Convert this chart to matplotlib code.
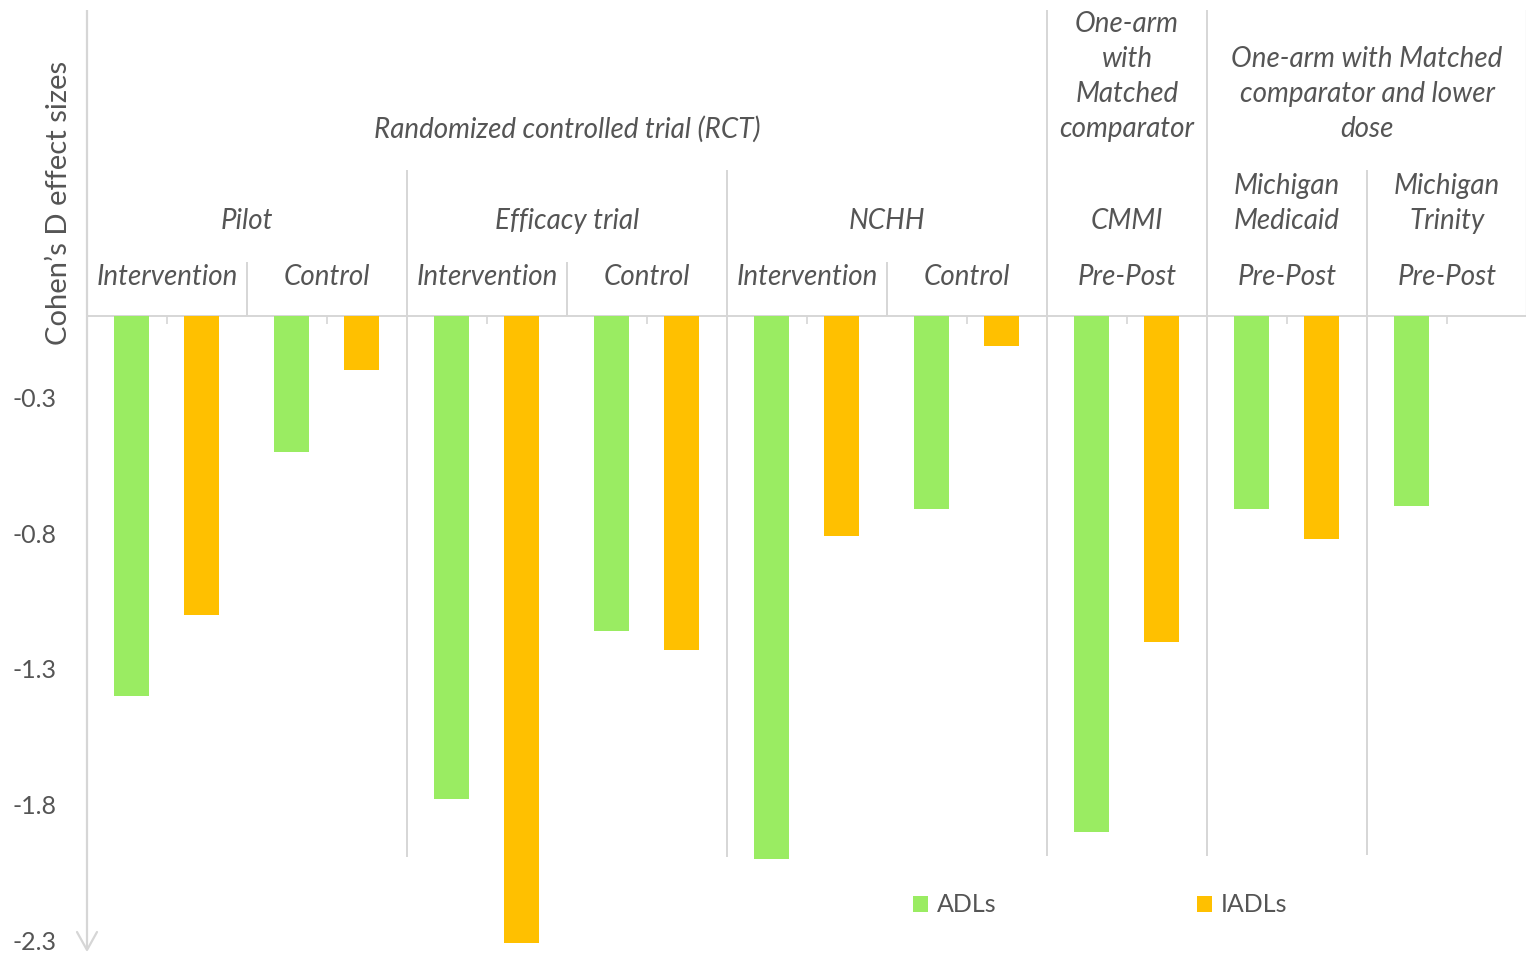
import numpy as np
import matplotlib.pyplot as plt

# Effect sizes (Cohen's d) per study arm
arms = ["Intervention", "Control", "Intervention", "Control", "Intervention",
        "Control", "Pre-Post", "Pre-Post", "Pre-Post"]
adl = [-1.40, -0.50, -1.78, -1.16, -2.00, -0.71, -1.90, -0.71, -0.70]
iadl = [-1.10, -0.20, -2.31, -1.23, -0.81, -0.11, -1.20, -0.82, np.nan]

# Study labels: (label, first arm, last arm + 1)
studies = [("Pilot", 0, 2), ("Efficacy trial", 2, 4), ("NCHH", 4, 6),
           ("CMMI", 6, 7), ("Michigan\nMedicaid", 7, 8), ("Michigan\nTrinity", 8, 9)]
# Design labels
designs = [("Randomized controlled trial (RCT)", 0, 6),
           ("One-arm\nwith\nMatched\ncomparator", 6, 7),
           ("One-arm with Matched\ncomparator and lower\ndose", 7, 9)]
yticks = [-0.3, -0.8, -1.3, -1.8, -2.3]
series_names = ["ADLs", "IADLs"]

GREEN = "#9AEC62"
GOLD = "#FFC000"
TXT = "#555555"
GRID = "#D6D6D6"
FONT = "Lato"

W, H = 1526, 956
fig = plt.figure(figsize=(W / 100, H / 100), dpi=100)
top_px, bot_px, left_px = 10, 948, 87
ax = fig.add_axes([left_px / W, (H - bot_px) / H, 1440 / W, (bot_px - top_px) / H])

zero_px, px_per_unit = 316, 271.5


def Y(py):
    """Convert a pixel row of the plot area into a value on the effect-size scale."""
    return (zero_px - py) / px_per_unit


ax.set_xlim(0, 18)
ax.set_ylim(Y(bot_px), Y(top_px))
for s in ax.spines.values():
    s.set_visible(False)
ax.set_xticks([])

# bars: each arm occupies two unit slots
idx = np.arange(len(arms))
bw = 0.434
b1 = ax.bar(2 * idx + 0.56, adl, width=bw, color=GREEN, label=series_names[0], zorder=3)
b2 = ax.bar(2 * idx + 1.43, iadl, width=bw, color=GOLD, label=series_names[1], zorder=3)

# category axis line and small ticks between the two slots of an arm
ax.axhline(0, color=GRID, lw=1.4, zorder=2)
ax.vlines(2 * idx + 1, Y(316), Y(324), color=GRID, lw=1.2, clip_on=False)

# separators of the hierarchical category labels
ax.vlines([2, 6, 10], Y(262), Y(316), color=GRID, lw=1.4)
ax.vlines([4, 8], Y(170), Y(857), color=GRID, lw=1.4)
ax.vlines([16], Y(170), Y(855), color=GRID, lw=1.4)
ax.vlines([12, 14], Y(10), Y(856), color=GRID, lw=1.4)
ax.vlines([18], Y(10), Y(316), color=GRID, lw=1.6, clip_on=False)

# value axis with arrow head
ax.vlines([0], Y(949), Y(10), color=GRID, lw=1.6, clip_on=False)
ax.plot([-0.125, 0, 0.125], [Y(932), Y(950), Y(932)], color=GRID, lw=1.6,
        clip_on=False, solid_capstyle="round")

ax.set_yticks(yticks)
ax.set_yticklabels([f"{t:.1f}" for t in yticks], fontfamily=FONT, fontsize=18, color=TXT)
ax.tick_params(axis="y", length=0, pad=22)

ax.set_ylabel("Cohen\u2019s D effect sizes", fontfamily=FONT, fontsize=21, color=TXT, va="center")
ax.yaxis.set_label_coords(-28 / 1440, (bot_px - 203) / (bot_px - top_px))

label_kw = dict(fontfamily=FONT, fontsize=20, style="italic", color=TXT,
                ha="center", va="center")
line_px = 35

# arm labels
for i, a in enumerate(arms):
    ax.text(2 * i + 1, Y(277), a, **label_kw)


def stacked(xc, last_py, text):
    lines = text.split("\n")
    n = len(lines)
    for k, ln in enumerate(lines):
        ax.text(xc, Y(last_py - (n - 1 - k) * line_px), ln, **label_kw)


for name, a0, a1 in studies:
    stacked(a0 + a1, 221, name)
for name, a0, a1 in designs:
    stacked(a0 + a1, 129, name)

leg = ax.legend(handles=[b1, b2], ncol=2, frameon=False, loc="center",
                bbox_to_anchor=((1100 - left_px) / 1440, (bot_px - 905) / (bot_px - top_px)),
                prop={"family": FONT, "size": 18}, handlelength=0.6, handleheight=0.6,
                handletextpad=0.35, columnspacing=8.0)
for t in leg.get_texts():
    t.set_color(TXT)

fig.savefig("out.png", dpi=100, facecolor="white")
